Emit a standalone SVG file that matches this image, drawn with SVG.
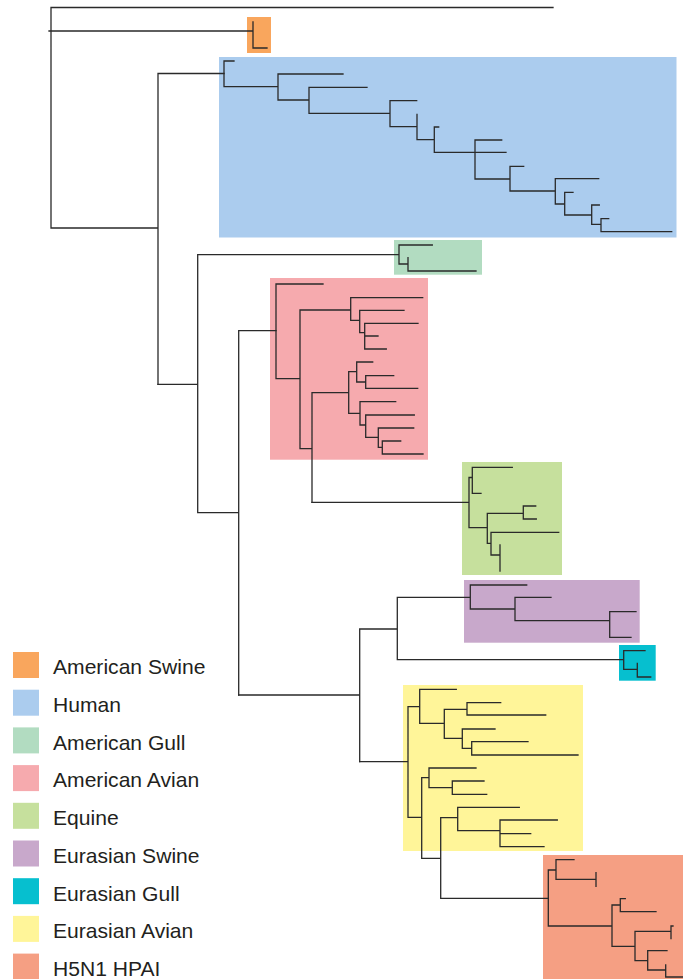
<svg xmlns="http://www.w3.org/2000/svg" width="683" height="979" viewBox="0 0 683 979">
<style>
.t{fill:none;stroke:#2a2a2a;stroke-width:1.3;stroke-linecap:square}
.lg{font-family:"Liberation Sans",Arial,sans-serif;font-size:21.1px;fill:#231f20}
.sw{fill:#F9A65D}.hu{fill:#ABCCEE}.ag{fill:#B2DCC1}.aa{fill:#F6AAAE}.eq{fill:#C6E09D}.es{fill:#C8A8CB}.eg{fill:#06BFCF}.ea{fill:#FFF599}.h5{fill:#F59F83}
</style>
<rect width="683" height="979" fill="#ffffff"/>
<g id="clade-american-swine"><rect class="sw" x="247" y="17" width="24" height="36"/></g>
<g id="clade-human"><rect class="hu" x="219" y="57" width="457.5" height="180.5"/></g>
<g id="clade-american-gull"><rect class="ag" x="394" y="240" width="88" height="34.7"/></g>
<g id="clade-american-avian"><rect class="aa" x="270" y="278" width="158" height="181.7"/></g>
<g id="clade-equine"><rect class="eq" x="462" y="462" width="100" height="113"/></g>
<g id="clade-eurasian-swine"><rect class="es" x="464" y="580" width="175.7" height="62.7"/></g>
<g id="clade-eurasian-gull"><rect class="eg" x="619" y="645" width="36.7" height="35.7"/></g>
<g id="clade-eurasian-avian"><rect class="ea" x="403" y="685" width="180" height="166"/></g>
<g id="clade-h5n1"><rect class="h5" x="543" y="855" width="140" height="124"/></g>
<g id="connectors" class="t">
<path d="M51 7.5H553M51 7.5V228M49 31H253M253 22V48H267M51 228H158M158 73.5V384.3M158 73.5H224"/>
<path d="M224 61V86.7M224 61H234M224 86.7H278M278 74V100M278 74H343M278 100H309M309 87.3V113.3M309 87.3H367M309 113.3H390M390 100.7V126.7M390 100.7H416.7M390 126.7H417M417 114.3V139.7H434.3M434.3 127V152.3M434.3 127H438.7M434.3 152.3H506M475 140V179M475 140H501.7M475 179H510M510 166.3V191M510 166.3H523.7M510 191H555.3M555.3 178.7V204M555.3 178.7H598.7M555.3 204H564.7M564.7 192.3V215M564.7 192.3H573M564.7 215H591.7M591.7 205V224.3M591.7 205H599.3M591.7 224.3H601M601 218.7V231.7M601 218.7H608.7M601 231.7H671.7"/>
<path d="M158 384.3H197.7M197.7 254.7V512.7M197.7 254.7H399M399 245V264M399 245H432.3M399 264H408M408 257.7V271H476M197.7 512.7H238.7M238.7 330.7V695M238.7 330.7H276"/>
<path d="M276 284V378.7M276 284H323M276 378.7H300M300 310V448.7M300 310H350.7M300 448.7H312M350.7 297.7V320.3M350.7 297.7H422.7M350.7 320.3H359.7M359.7 310.3V332.7M359.7 310.3H404M359.7 332.7H364.7M364.7 323.3V349M364.7 323.3H418M364.7 336H378M364.7 349H386.3M312 392.7V502.3M312 392.7H348.7M348.7 371.7V413.3M348.7 371.7H356.7M348.7 413.3H360M356.7 362V382M356.7 362H372.7M356.7 382H365.7M365.7 375.7V388.3M365.7 375.7H393.7M365.7 388.3H417.7M360 401.7V425M360 401.7H395.7M360 425H365.7M365.7 415V437.3M365.7 415H414.3M365.7 437.3H378.3M378.3 428V447.3M378.3 428H413.7M378.3 447.3H382.3M382.3 441V454M382.3 441H400.7M382.3 454H423"/>
<path d="M312 502.3H469M469 477.5V527.7M469 477.5H472.3M472.3 467.3V493.3M472.3 467.3H512.3M472.3 493.3H481M469 527.7H487.3M487.3 513.3V543.3M487.3 513.3H523.3M487.3 543.3H491M523.3 506V519M523.3 506H535.7M523.3 519H536.3M491 532.3V555M491 532.3H558.7M491 555H500M500 545V571"/>
<path d="M238.7 695H359.7M359.7 629V761.7M359.7 629H397.3M397.3 597.3V659.7M397.3 597.3H470.3M397.3 659.7H623.7M470.3 585V609M470.3 585H526.7M470.3 609H515M515 597.3V620.7M515 597.3H551M515 620.7H609.7M609.7 611.7V637.3M609.7 611.7H636M609.7 637.3H631M623.7 650.7V669.3M623.7 650.7H645M623.7 669.3H637.3M637.3 663.3V677H650.7"/>
<path d="M359.7 761.7H408M408 706.7V817.3M408 706.7H419.7M419.7 689.3V723.3M419.7 689.3H456.3M419.7 723.3H444.3M444.3 709.3V738.3M444.3 709.3H467M467 702.7V715M467 702.7H500.7M467 715H545.7M444.3 738.3H462.3M462.3 729V748.3M462.3 729H495M462.3 748.3H471.7M471.7 741.7V755M471.7 741.7H528M471.7 755H578M408 817.3H421.7M421.7 777.7V858.3M421.7 777.7H429M429 768V787.7M429 768H476M429 787.7H452.3M452.3 781V794.3M452.3 781H484M452.3 794.3H486.7M421.7 858.3H440.7M440.7 817.7V898.3M440.7 817.7H457.7M457.7 807.3V830.7M457.7 807.3H519.3M457.7 830.7H500M500 820V846.7M500 820H557.3M500 833.7H530.7M500 846.7H544M440.7 898.3H548.3"/>
<path d="M548.3 870V926M548.3 870H556M556 859.7V879.3M556 859.7H574M556 879.3H596M596 872.7V886.3M548.3 926H612M612 905V946.3M612 905H620.3M620.3 898.7V911.7M620.3 898.7H625.3M620.3 911.7H656M612 946.3H635M635 931.3V960.7M635 931.3H671M671 926V938.7M671 926H673M635 960.7H647.7M647.7 950.7V970M647.7 950.7H667M647.7 970H665.7M665.7 965V977H683"/>
</g>
<g id="legend">
<g id="legend-american-swine"><rect class="sw" x="13" y="652" width="26" height="26"/><text class="lg" x="53" y="674.3">American Swine</text></g>
<g id="legend-human"><rect class="hu" x="13" y="689.7" width="26" height="26"/><text class="lg" x="53" y="712">Human</text></g>
<g id="legend-american-gull"><rect class="ag" x="13" y="727.4" width="26" height="26"/><text class="lg" x="53" y="749.7">American Gull</text></g>
<g id="legend-american-avian"><rect class="aa" x="13" y="765.1" width="26" height="26"/><text class="lg" x="53" y="787.4">American Avian</text></g>
<g id="legend-equine"><rect class="eq" x="13" y="802.8" width="26" height="26"/><text class="lg" x="53" y="825.1">Equine</text></g>
<g id="legend-eurasian-swine"><rect class="es" x="13" y="840.5" width="26" height="26"/><text class="lg" x="53" y="862.8">Eurasian Swine</text></g>
<g id="legend-eurasian-gull"><rect class="eg" x="13" y="878.2" width="26" height="26"/><text class="lg" x="53" y="900.5">Eurasian Gull</text></g>
<g id="legend-eurasian-avian"><rect class="ea" x="13" y="915.9" width="26" height="26"/><text class="lg" x="53" y="938.2">Eurasian Avian</text></g>
<g id="legend-h5n1"><rect class="h5" x="13" y="953.6" width="26" height="26"/><text class="lg" x="53" y="975.9">H5N1 HPAI</text></g>
</g>
</svg>
